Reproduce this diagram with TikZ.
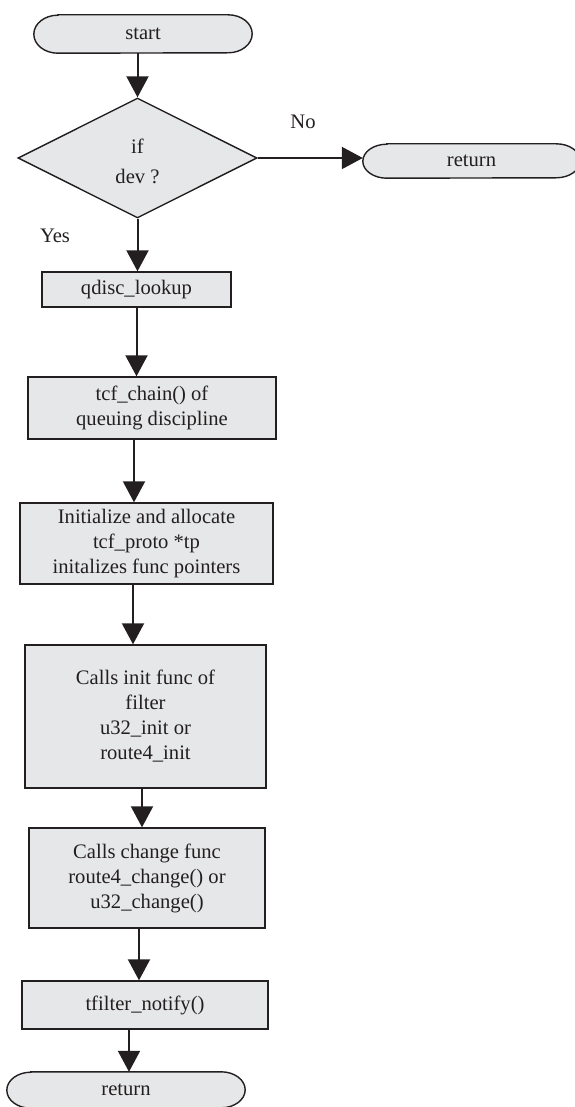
\documentclass[tikz,border=0pt]{standalone}
\usepackage{fontspec}
\setmainfont{Liberation Serif}
\usetikzlibrary{arrows.meta,shapes.geometric,backgrounds}
\definecolor{ink}{HTML}{231F20}
\definecolor{boxfill}{HTML}{E6E7E8}
\tikzset{
 proc/.style={draw=ink,fill=boxfill,line width=1.4pt,inner sep=0pt,align=center,text=ink},
 term/.style={inner sep=0pt,text=ink},
 termline/.style={draw=ink,fill=boxfill,line width=1.4pt},
 dec/.style={draw=ink,fill=boxfill,line width=1.4pt,shape=diamond,aspect=2,inner sep=0pt,align=center,text=ink},
 flow/.style={draw=ink,line width=2pt,-{Triangle[width=22pt,length=21pt]}},
 lbl/.style={text=ink,inner sep=0pt}
}
\newcommand\termoutline[3]{%
 \begin{scope}[on background layer]
 \draw[termline] ([xshift=#2]#1.north west) -- ([xshift=-#2]#1.north east)
   arc[start angle=90,end angle=-90,x radius=#2,y radius=#3]
   -- ([xshift=#2]#1.south west)
   arc[start angle=270,end angle=90,x radius=#2,y radius=#3] -- cycle;
 \end{scope}}
\begin{document}
\begin{tikzpicture}[x=1pt,y=-1pt,font=\fontsize{20.6}{25}\selectfont]
\useasboundingbox (0,0) rectangle (574,1107);
% terminals
\node[term,minimum width=218pt,minimum height=38pt] (start) at (143,34) {start};
\termoutline{start}{24pt}{19pt}
\node[term,minimum width=217pt,minimum height=34pt] (ret1) at (471.5,161) {return};
\termoutline{ret1}{24pt}{17pt}
\node[term,minimum width=238pt,minimum height=36pt] (ret2) at (126,1090) {return};
\termoutline{ret2}{24pt}{18pt}
% decision
\node[dec,minimum width=239pt,minimum height=120pt,font=\fontsize{20.6}{30}\selectfont] (dev) at (137.5,158) {\strut if\\dev ?};
% processes
\node[proc,minimum width=189pt,minimum height=35pt] (qdisc) at (136.5,289.5) {qdisc\_lookup};
\node[proc,minimum width=248pt,minimum height=62pt] (tcf) at (152,408) {tcf\_chain() of\\queuing discipline};
\node[proc,minimum width=253pt,minimum height=81pt] (init) at (146.5,543.5) {Initialize and allocate\\tcf\_proto *tp\\initalizes func pointers};
\node[proc,minimum width=241pt,minimum height=143pt] (calls) at (145.5,716.5) {Calls init func of\\filter\\u32\_init or\\ route4\_init};
\node[proc,minimum width=236pt,minimum height=100pt] (change) at (147,878) {Calls change func\\route4\_change() or\\u32\_change()};
\node[proc,minimum width=246pt,minimum height=48pt] (tfilter) at (145,1005) {tfilter\_notify()};
% labels
\node[lbl] (no) at (303,122) {No};
\node[lbl] (yes) at (55,236) {Yes};
% connectors
\draw[flow] (start.south -| dev.north) -- (dev.north);
\draw[flow] (dev.east) -- (dev.east -| ret1.west);
\draw[flow] (dev.south) -- (dev.south |- qdisc.north);
\draw[flow] (qdisc.south) -- (qdisc.south |- tcf.north);
\draw[flow] ([xshift=-18pt]tcf.south) -- ([xshift=-18pt]tcf.south |- init.north);
\draw[flow] ([xshift=-13.5pt]init.south) -- ([xshift=-13.5pt]init.south |- calls.north);
\draw[flow] ([xshift=-3.5pt]calls.south) -- ([xshift=-3.5pt]calls.south |- change.north);
\draw[flow] ([xshift=-8pt]change.south) -- ([xshift=-8pt]change.south |- tfilter.north);
\draw[flow] ([xshift=3pt]ret2.north |- tfilter.south) -- ([xshift=3pt]ret2.north);
\end{tikzpicture}
\end{document}
